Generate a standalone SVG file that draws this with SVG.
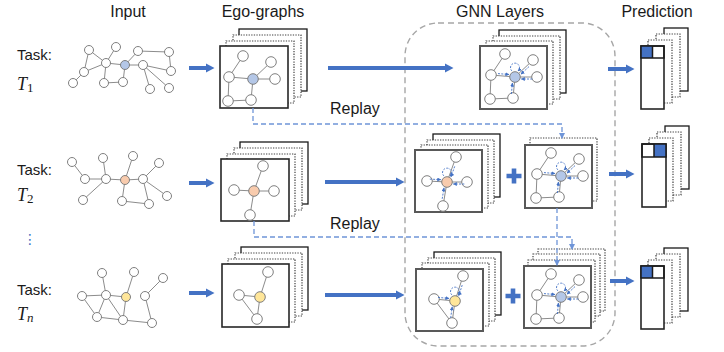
<svg xmlns="http://www.w3.org/2000/svg" xmlns:xlink="http://www.w3.org/1999/xlink" width="724" height="352" viewBox="0 0 724 352">
<style>
.t{font-family:"Liberation Sans",Arial,sans-serif;fill:#1a1a1a}
.m{font-family:"Liberation Serif","Times New Roman",serif;font-style:italic;fill:#1a1a1a}
.e{stroke:#8c8c8c;stroke-width:1;fill:none}
.n{fill:#fff;stroke:#7f7f7f;stroke-width:1}
.hb{fill:#B4C7E7;stroke:#7f7f7f;stroke-width:1}
.ho{fill:#F8CBAD;stroke:#7f7f7f;stroke-width:1}
.hy{fill:#FFE699;stroke:#7f7f7f;stroke-width:1}
.fr{fill:#fff;stroke:#262626;stroke-width:1.6}
.gfr{fill:#fff;stroke:#595959;stroke-width:2}
.bk{fill:#fff;stroke:#1a1a1a;stroke-width:1.3}
.dt{fill:#fff;stroke:#404040;stroke-width:1.2;stroke-dasharray:1.3 1.3}
.arr{stroke:#4472C4;stroke-width:4;fill:none;marker-end:url(#ah)}
.rp{fill:none;stroke:#6F95D8;stroke-width:1.3;stroke-dasharray:5 3}
.rpa{marker-end:url(#sh)}
.msg{fill:none;stroke:#4472C4;stroke-width:0.9;stroke-dasharray:2 1.3;marker-end:url(#mh)}
.cell{fill:none;stroke:#1a1a1a;stroke-width:1.5}
.blue{fill:#4472C4}
</style>
<defs>
<marker id="ah" markerUnits="userSpaceOnUse" markerWidth="9" markerHeight="10" refX="2" refY="5" orient="auto"><path d="M0,0.5 L8.5,5 L0,9.5 z" fill="#4472C4"/></marker>
<marker id="sh" markerUnits="userSpaceOnUse" markerWidth="6" markerHeight="6" refX="5" refY="3" orient="auto"><path d="M0,0 L6,3 L0,6 z" fill="#6F95D8"/></marker>
<marker id="mh" markerUnits="userSpaceOnUse" markerWidth="4" markerHeight="4" refX="3.5" refY="2" orient="auto"><path d="M0,0 L4,2 L0,4 z" fill="#4472C4"/></marker>
<g id="gA">
<path class="e" d="M-10,-23 L-24,-2 L0,0 L18,-17 M0,0 L22,0 M-24,-2 L-25,22 L-2,21 L0,0"/>
<circle class="n" cx="-10" cy="-23" r="5.3"/><circle class="n" cx="18" cy="-17" r="5.3"/>
<circle class="n" cx="-24" cy="-2" r="5.3"/><circle class="n" cx="22" cy="0" r="5.3"/>
<circle class="n" cx="-25" cy="22" r="5.3"/><circle class="n" cx="-2" cy="21" r="5.3"/>
<circle class="hb" cx="0" cy="0" r="5.3"/>
</g>
<g id="gB">
<path class="e" d="M0,0 L9,-25 M0,0 L-20,-1 M0,0 L20,0 M0,0 L-4,24"/>
<circle class="n" cx="9" cy="-25" r="5.3"/><circle class="n" cx="-20" cy="-1" r="5.3"/>
<circle class="n" cx="20" cy="0" r="5.3"/><circle class="n" cx="-4" cy="24" r="5.3"/>
<circle class="ho" cx="0" cy="0" r="5.3"/>
</g>
<g id="gC">
<path class="e" d="M0,0 L8,-25 M0,0 L-21,-2 L-3,22 L0,0"/>
<circle class="n" cx="8" cy="-25" r="5.3"/><circle class="n" cx="-21" cy="-2" r="5.3"/>
<circle class="n" cx="-3" cy="22" r="5.3"/>
<circle class="hy" cx="0" cy="0" r="5.3"/>
</g>
<g id="mA">
<path class="msg" d="M-17,-3.4 L-6.1,-2.5"/><path class="msg" d="M17.3,2 L6.3,2"/>
<path class="msg" d="M14,-10.4 L6,-2.9"/><path class="msg" d="M-3.6,17 L-2.6,6.1"/>
<path class="msg" d="M-3,-6 A4.5,4.5 0 1 1 3,-6"/>
</g>
<g id="mB">
<path class="msg" d="M7.7,-15.6 L4,-5.2"/><path class="msg" d="M-17.2,-2.9 L-6.2,-2.3"/>
<path class="msg" d="M17.3,2 L6.3,2"/><path class="msg" d="M-4.8,16.8 L-3,5.9"/>
<path class="msg" d="M-3,-6 A4.5,4.5 0 1 1 3,-6"/>
</g>
<g id="mC">
<path class="msg" d="M7.2,-15.9 L3.8,-5.4"/><path class="msg" d="M-17,-3.6 L-6.1,-2.6"/>
<path class="msg" d="M-4.3,16.9 L-2.8,5.9"/>
<path class="msg" d="M-3,-6 A4.5,4.5 0 1 1 3,-6"/>
</g>
</defs>
<rect width="724" height="352" fill="#fff"/>

<g id="headers">
<text class="t" x="128" y="17" font-size="16" text-anchor="middle">Input</text>
<text class="t" x="263" y="17" font-size="16" text-anchor="middle">Ego-graphs</text>
<text class="t" x="500" y="17" font-size="16" text-anchor="middle">GNN Layers</text>
<text class="t" x="657" y="17" font-size="16" text-anchor="middle">Prediction</text>
</g>

<g id="gnn-container">
<rect x="405" y="23" width="210" height="323" rx="33" ry="33" fill="none" stroke="#a6a6a6" stroke-width="1.4" stroke-dasharray="6 4"/>
</g>

<g id="task1">
<text class="t" x="17" y="60" font-size="15">Task:</text>
<text class="m" x="17" y="90" font-size="18">T<tspan font-style="normal" font-size="13" dy="2">1</tspan></text>
</g>
<g id="task2">
<text class="t" x="17" y="175" font-size="15">Task:</text>
<text class="m" x="17" y="201" font-size="18">T<tspan font-style="normal" font-size="13" dy="2">2</tspan></text>
</g>
<g id="dots"><text x="30" y="244" font-family="'DejaVu Sans',sans-serif" font-size="14" fill="#4472C4" text-anchor="middle">⋮</text></g>
<g id="task3">
<text class="t" x="17" y="295" font-size="15">Task:</text>
<text class="m" x="17" y="320" font-size="18">T<tspan font-size="13" dy="2">n</tspan></text>
</g>

<g id="input1">
<path class="e" d="M89,50 L84,72 M89,50 L106,63 M116,47 L106,63 M84,72 L106,63 M84,72 L73,83 M106,63 L125,65 M106,63 L104,83 L123,82 L125,65 L138,51 L169,52 L171,71 L143,65 L125,65 M143,65 L150,89 M143,65 L169,88"/>
<circle class="n" cx="89" cy="50" r="4.5"/><circle class="n" cx="116" cy="47" r="4.5"/><circle class="n" cx="138" cy="51" r="4.5"/><circle class="n" cx="169" cy="52" r="4.5"/>
<circle class="n" cx="106" cy="63" r="4.5"/><circle class="n" cx="143" cy="65" r="4.5"/><circle class="n" cx="84" cy="72" r="4.5"/><circle class="n" cx="171" cy="71" r="4.5"/>
<circle class="n" cx="73" cy="83" r="4.5"/><circle class="n" cx="104" cy="83" r="4.5"/><circle class="n" cx="123" cy="82" r="4.5"/><circle class="n" cx="150" cy="89" r="4.5"/><circle class="n" cx="169" cy="88" r="4.5"/>
<circle class="hb" cx="125" cy="65" r="4.5"/>
</g>
<g id="input2">
<path class="e" d="M72,162 L85,179 L106,179 L125,180 L143,179 M103,158 L106,179 L83,200 M133,156 L125,180 L122,201 L149,204 L143,179 L159,163 M143,179 L167,196"/>
<circle class="n" cx="72" cy="162" r="4.5"/><circle class="n" cx="103" cy="158" r="4.5"/><circle class="n" cx="133" cy="156" r="4.5"/><circle class="n" cx="159" cy="163" r="4.5"/>
<circle class="n" cx="85" cy="179" r="4.5"/><circle class="n" cx="106" cy="179" r="4.5"/><circle class="n" cx="143" cy="179" r="4.5"/>
<circle class="n" cx="83" cy="200" r="4.5"/><circle class="n" cx="122" cy="201" r="4.5"/><circle class="n" cx="149" cy="204" r="4.5"/><circle class="n" cx="167" cy="196" r="4.5"/>
<circle class="ho" cx="125" cy="180" r="4.5"/>
</g>
<g id="input3">
<path class="e" d="M102,273 L106,295 M82,296 L106,295 L126,297 L134,272 M82,296 L97,317 L106,295 L123,320 L126,297 M97,317 L123,320 L152,323 L145,296 L163,278"/>
<circle class="n" cx="102" cy="273" r="4.5"/><circle class="n" cx="134" cy="272" r="4.5"/><circle class="n" cx="163" cy="278" r="4.5"/>
<circle class="n" cx="82" cy="296" r="4.5"/><circle class="n" cx="106" cy="295" r="4.5"/><circle class="n" cx="145" cy="296" r="4.5"/>
<circle class="n" cx="97" cy="317" r="4.5"/><circle class="n" cx="123" cy="320" r="4.5"/><circle class="n" cx="152" cy="323" r="4.5"/>
<circle class="hy" cx="126" cy="297" r="4.5"/>
</g>

<g id="ego1">
<rect class="bk" x="239" y="29" width="68" height="62"/>
<rect class="dt" x="233" y="35" width="68" height="62"/>
<rect class="dt" x="226" y="41" width="68" height="62"/>
<rect class="fr" x="220" y="46" width="68" height="62"/>
<use xlink:href="#gA" x="253" y="79"/>
</g>
<g id="ego2">
<rect class="bk" x="240" y="142" width="68" height="62"/>
<rect class="dt" x="234" y="148" width="68" height="62"/>
<rect class="dt" x="227" y="154" width="68" height="62"/>
<rect class="fr" x="221" y="159" width="68" height="62"/>
<use xlink:href="#gB" x="254" y="191"/>
</g>
<g id="ego3">
<rect class="bk" x="241" y="247" width="67" height="63"/>
<rect class="dt" x="235" y="253" width="67" height="63"/>
<rect class="dt" x="228" y="259" width="67" height="63"/>
<rect class="fr" x="222" y="264" width="67" height="63"/>
<use xlink:href="#gC" x="260" y="297"/>
</g>

<g id="gnn1">
<rect class="bk" x="499" y="30" width="67" height="63"/>
<rect class="dt" x="493" y="36" width="67" height="63"/>
<rect class="dt" x="486" y="41" width="67" height="63"/>
<rect class="gfr" x="480" y="46" width="67" height="63"/>
<use xlink:href="#gA" x="515" y="77"/><use xlink:href="#mA" x="515" y="77"/>
</g>
<g id="gnn2a">
<rect class="bk" x="433" y="134" width="67" height="63"/>
<rect class="dt" x="427" y="140" width="67" height="63"/>
<rect class="dt" x="421" y="145" width="67" height="63"/>
<rect class="gfr" x="415" y="150" width="67" height="62"/>
<use xlink:href="#gB" x="447" y="182"/><use xlink:href="#mB" x="447" y="182"/>
</g>
<g id="plus2"><path class="blue" d="M511.7,168.5 h4.6 v5.2 h5.2 v4.6 h-5.2 v5.2 h-4.6 v-5.2 h-5.2 v-4.6 h5.2 z"/></g>
<g id="gnn2b">
<rect class="dt" x="530" y="138" width="67" height="63"/>
<rect class="gfr" x="525" y="145" width="67" height="63"/>
<use xlink:href="#gA" x="561" y="176"/><use xlink:href="#mA" x="561" y="176"/>
</g>
<g id="gnn3a">
<rect class="bk" x="434" y="252" width="67" height="63"/>
<rect class="dt" x="428" y="258" width="67" height="63"/>
<rect class="dt" x="422" y="263" width="67" height="63"/>
<rect class="gfr" x="416" y="269" width="67" height="62"/>
<use xlink:href="#gC" x="455" y="301"/><use xlink:href="#mC" x="455" y="301"/>
</g>
<g id="plus3"><path class="blue" d="M510.7,288.5 h4.6 v5.2 h5.2 v4.6 h-5.2 v5.2 h-4.6 v-5.2 h-5.2 v-4.6 h5.2 z"/></g>
<g id="gnn3b">
<rect class="dt" x="538" y="249" width="67" height="62"/>
<rect class="dt" x="533" y="254" width="67" height="62"/>
<rect class="dt" x="528" y="260" width="67" height="62"/>
<rect class="gfr" x="524" y="266" width="67" height="62"/>
<use xlink:href="#gA" x="561" y="297"/><use xlink:href="#mA" x="561" y="297"/>
</g>

<g id="pred1">
<rect class="bk" x="664" y="28" width="24" height="63"/>
<rect class="dt" x="656" y="34" width="24" height="63"/>
<rect class="dt" x="648" y="40" width="24" height="63"/>
<rect class="fr" x="641" y="46" width="23" height="63"/>
<rect class="blue" x="641" y="46" width="11.5" height="12"/>
<rect class="cell" x="641" y="46" width="23" height="12"/><line class="cell" x1="652.5" y1="46" x2="652.5" y2="58"/>
</g>
<g id="pred2">
<rect class="bk" x="665" y="126" width="24" height="63"/>
<rect class="dt" x="657" y="132" width="24" height="63"/>
<rect class="dt" x="649" y="138" width="24" height="63"/>
<rect class="fr" x="642" y="144" width="24" height="63"/>
<rect class="blue" x="654" y="144" width="12" height="13"/>
<rect class="cell" x="642" y="144" width="24" height="13"/><line class="cell" x1="654" y1="144" x2="654" y2="157"/>
</g>
<g id="pred3">
<rect class="bk" x="664" y="248" width="24" height="63"/>
<rect class="dt" x="656" y="254" width="24" height="63"/>
<rect class="dt" x="648" y="260" width="24" height="63"/>
<rect class="fr" x="641" y="266" width="23" height="63"/>
<rect class="blue" x="641" y="266" width="11.5" height="12"/>
<rect class="cell" x="641" y="266" width="23" height="12"/><line class="cell" x1="652.5" y1="266" x2="652.5" y2="278"/>
</g>

<g id="connectors">
<line class="arr" x1="189" y1="68" x2="208" y2="68"/>
<line class="arr" x1="328" y1="68" x2="447" y2="68"/>
<line class="arr" x1="608" y1="69" x2="628" y2="69"/>
<line class="arr" x1="189" y1="183" x2="208" y2="183"/>
<line class="arr" x1="325" y1="182" x2="398" y2="182"/>
<line class="arr" x1="609" y1="174" x2="628" y2="174"/>
<line class="arr" x1="189" y1="293" x2="208" y2="293"/>
<line class="arr" x1="325" y1="295" x2="398" y2="295"/>
<line class="arr" x1="610" y1="281" x2="628" y2="281"/>
<path class="rp rpa" d="M253,108 V124 H562 V138"/>
<path class="rp rpa" d="M254,221 V237 H572 V249"/>
<path class="rp rpa" d="M557,208 V265"/>
<text class="t" x="330" y="114" font-size="16">Replay</text>
<text class="t" x="330" y="229" font-size="16">Replay</text>
</g>
</svg>
